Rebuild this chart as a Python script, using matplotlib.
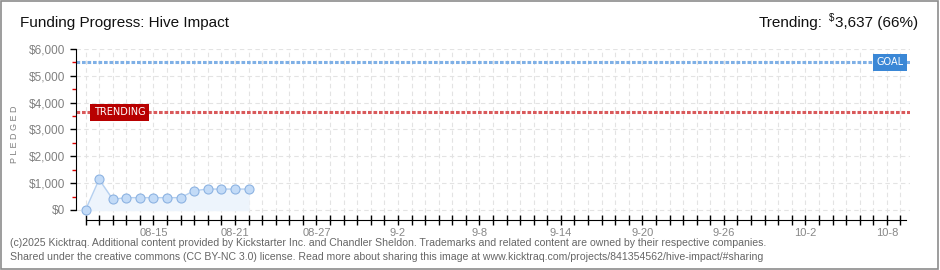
import matplotlib
matplotlib.use("Agg")
import matplotlib.pyplot as plt
from matplotlib.patches import Rectangle
import numpy as np

# daily pledged totals, day 0 = Aug 10
days = np.arange(13)
pledged = [0, 1140, 400, 460, 460, 460, 460, 460, 720, 780, 780, 780, 780]
goal = 5500
trending = 3637
n_days = 61
tick_days = [5, 11, 17, 23, 29, 35, 41, 47, 53, 59]
tick_labels = ["08-15", "08-21", "08-27", "9-2", "9-8", "9-14", "9-20", "9-26", "10-2", "10-8"]

plt.rcParams["font.family"] = ["Liberation Sans", "DejaVu Sans"]

fig = plt.figure(figsize=(9.4, 2.7), dpi=100)
fig.patches.append(Rectangle((0.001, 0.002), 0.997, 0.995, transform=fig.transFigure,
                             fill=False, edgecolor="#8c8c8c", linewidth=1.2))
ax = fig.add_axes([76 / 940, 50 / 270, 834 / 940, 171 / 270])

ax.set_xlim(-0.7, n_days - 0.3)
ax.set_ylim(-373, 6000)

# grid
for d in range(n_days):
    ax.axvline(d, color="#e3e3e3", lw=0.8, ls=(0, (4, 3)), zorder=0)
for v in range(0, 7000, 1000):
    ax.axhline(v, color="#e3e3e3", lw=0.8, ls=(0, (4, 3)), zorder=0)

# goal / trending lines
ax.axhline(goal, color="#7fb0e6", lw=2.2, ls=(0, (1.2, 0.6)), zorder=2)
ax.axhline(trending, color="#d9595b", lw=2.2, ls=(0, (1.2, 0.6)), zorder=2)
ax.text(59.2, goal, "GOAL", color="white", fontsize=7, va="center", ha="center",
        family="DejaVu Sans",
        bbox=dict(boxstyle="square,pad=0.35", fc="#3a87d6", ec="none"), zorder=4)
ax.text(2.5, trending, "TRENDING", color="white", fontsize=7, va="center", ha="center",
        family="DejaVu Sans",
        bbox=dict(boxstyle="square,pad=0.35", fc="#b80000", ec="none"), zorder=4)

# series
ax.fill_between(days, pledged, 0, color="#edf4fc", zorder=1)
ax.plot(days, pledged, color="#b5d0f0", lw=1, marker="o", ms=6.5,
        mfc="#c3dbf7", mec="#8db3e2", mew=0.8, zorder=3)

# spines and ticks
for s in ["top", "right"]:
    ax.spines[s].set_visible(False)
ax.spines["left"].set_bounds(0, 6000)
ax.spines["bottom"].set_bounds(0, n_days - 0.6)
ax.set_yticks(range(0, 7000, 1000))
ax.set_yticklabels(["$0", "$1,000", "$2,000", "$3,000", "$4,000", "$5,000", "$6,000"])
ax.set_yticks(range(500, 6000, 1000), minor=True)
ax.tick_params(axis="y", which="major", length=4, width=1, labelsize=8.5,
               labelcolor="#808080", pad=4)
ax.tick_params(axis="y", which="minor", length=3, width=1, color="#dd0000")
ax.set_xticks(range(n_days), minor=True)
ax.set_xticks(tick_days)
ax.set_xticklabels(tick_labels)
ax.tick_params(axis="x", which="both", direction="inout", length=7, width=1,
               labelsize=8, labelcolor="#888888", pad=2)
ax.set_ylabel("P L E D G E D", fontsize=6.5, color="#808080")
ax.yaxis.set_label_coords(-0.068, 0.5)

# header
fig.text(20 / 940, 1 - 23 / 270, "Funding Progress: Hive Impact", fontsize=11,
         va="center", ha="left", color="#111111")
amount = fig.text(918 / 940, 1 - 23 / 270, f"{trending:,} (66%)", fontsize=11,
                  va="center", ha="right", color="#111111")
fig.canvas.draw()
x0 = amount.get_window_extent().x0
dollar = fig.text((x0 - 1) / 940, 1 - 18 / 270, "$", fontsize=7,
                  va="center", ha="right", color="#111111")
fig.canvas.draw()
x1 = dollar.get_window_extent().x0
fig.text((x1 - 6) / 940, 1 - 23 / 270, "Trending:", fontsize=11,
         va="center", ha="right", color="#111111")

# footer
fig.text(10 / 940, 1 - 243 / 270,
         "(c)2025 Kicktraq. Additional content provided by Kickstarter Inc. and Chandler Sheldon. "
         "Trademarks and related content are owned by their respective companies.",
         fontsize=7.6, color="#666666", va="center", ha="left")
fig.text(10 / 940, 1 - 257 / 270,
         "Shared under the creative commons (CC BY-NC 3.0) license. Read more about sharing "
         "this image at www.kicktraq.com/projects/841354562/hive-impact/#sharing",
         fontsize=7.6, color="#666666", va="center", ha="left")

fig.savefig("out.png", dpi=100)
